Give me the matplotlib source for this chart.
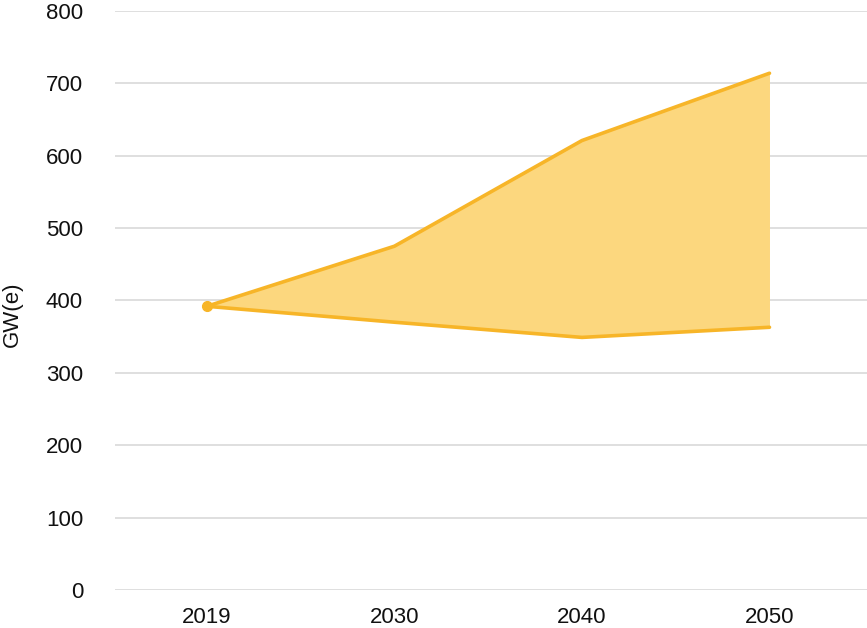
import matplotlib
matplotlib.use("Agg")
import matplotlib.pyplot as plt
import numpy as np

# data
years = ["2019", "2030", "2040", "2050"]
high_case = [392, 475, 621, 714]
low_case = [392, 370, 349, 363]

line_color = "#F7B528"
fill_color = "#FCD77E"
grid_color = "#D9D9D9"

plt.rcParams['font.family'] = ['Liberation Sans', 'DejaVu Sans']

fig = plt.figure(figsize=(8.67, 6.28), dpi=100)
ax = fig.add_axes([0.1326, 0.0605, 0.8674, 0.922])

x = np.arange(len(years))
ax.fill_between(x, low_case, high_case, color=fill_color, linewidth=0, zorder=2)
ax.plot(x, high_case, color=line_color, linewidth=2.6, zorder=3, solid_capstyle='round')
ax.plot(x, low_case, color=line_color, linewidth=2.6, zorder=3, solid_capstyle='round')
ax.plot(x[:1], high_case[:1], 'o', color=line_color, markersize=7, zorder=4)

ax.set_xlim(-0.49, 3.52)
ax.set_ylim(0, 800)
ax.set_yticks(np.arange(0, 801, 100))
ax.set_xticks(x)
ax.set_xticklabels(years)

ax.grid(axis='y', color=grid_color, linewidth=1.2, zorder=1)
ax.set_axisbelow(True)
for s in ax.spines.values():
    s.set_visible(False)
ax.tick_params(axis='both', length=0, labelsize=16, colors='#111111')
ax.tick_params(axis='y', pad=23)
ax.tick_params(axis='x', pad=12)

fig.text(0.002, 0.5, "GW(e)", rotation=90, fontsize=16, va='center', ha='left', color='#111111')

fig.savefig("out.png", dpi=100)
